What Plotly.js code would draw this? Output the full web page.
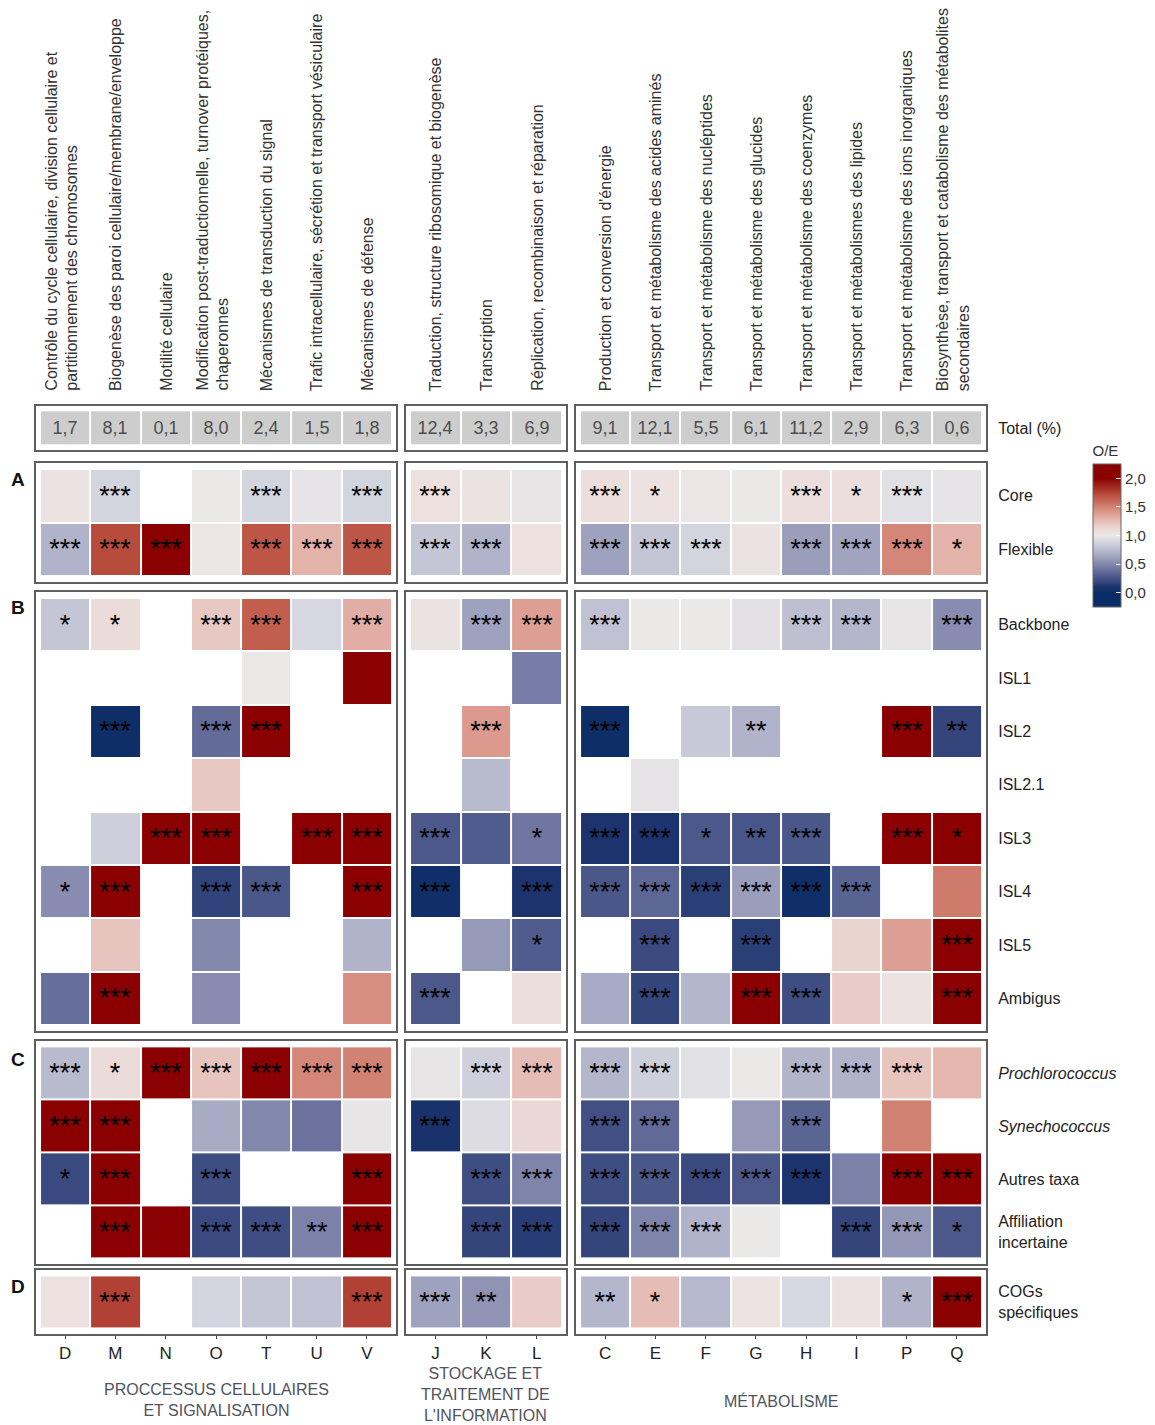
<!DOCTYPE html>
<html><head><meta charset="utf-8">
<script src="https://cdn.plot.ly/plotly-3.0.1.min.js"></script>
<style>html,body{margin:0;padding:0;background:#fff}</style>
</head><body><div id="chart" style="width:1155px;height:1425px"></div>
<script>
// ---------- DATA ----------
const colsProc = ['D','M','N','O','T','U','V'];
const colsInfo = ['J','K','L'];
const colsMeta = ['C','E','F','G','H','I','P','Q'];

const labelsProc = [
  'Contrôle du cycle cellulaire, division cellulaire et<br>partitionnement des chromosomes',
  'Biogenèse des paroi cellulaire/membrane/enveloppe',
  'Motilité cellulaire',
  'Modification post-traductionnelle, turnover protéiques,<br>chaperonnes',
  'Mécanismes de transduction du signal',
  'Trafic intracellulaire, sécrétion et transport vésiculaire',
  'Mécanismes de défense'
];
const labelsInfo = [
  'Traduction, structure ribosomique et biogenèse',
  'Transcription',
  'Réplication, recombinaison et réparation'
];
const labelsMeta = [
  "Production et conversion d'énergie",
  'Transport et métabolisme des acides aminés',
  'Transport et métabolisme des nucléptides',
  'Transport et métabolisme des glucides',
  'Transport et métabolisme des coenzymes',
  'Transport et métabolismes des lipides',
  'Transport et métabolisme des ions inorganiques',
  'Biosynthèse, transport et catabolisme des métabolites<br>secondaires'
];
const groupTitles = ['PROCCESSUS CELLULAIRES<br>ET SIGNALISATION', 'STOCKAGE ET<br>TRAITEMENT DE<br>L\'INFORMATION', 'MÉTABOLISME'];

const totalLabel = ['Total (%)'];
const totalPct = [1.7, 8.1, 0.1, 8.0, 2.4, 1.5, 1.8, 12.4, 3.3, 6.9, 9.1, 12.1, 5.5, 6.1, 11.2, 2.9, 6.3, 0.6];

const rowsA = ['Core', 'Flexible'];
const rowsB = ['Backbone', 'ISL1', 'ISL2', 'ISL2.1', 'ISL3', 'ISL4', 'ISL5', 'Ambigus'];
const rowsC = ['Prochlorococcus', 'Synechococcus', 'Autres taxa', 'Affiliation incertaine'];
const rowsD = ['COGs spécifiques'];
const rowTextC = ['<i>Prochlorococcus</i>', '<i>Synechococcus</i>', 'Autres taxa', 'Affiliation<br>incertaine'];
const rowTextD = ['COGs<br>spécifiques'];

// O/E values, columns D M N O T U V | J K L | C E F G H I P Q  (null = absent)
const oeCore     = [1.05, 0.88, null, 1.0, 0.88, 0.97, 0.88, 1.06, 1.04, 0.98, 1.08, 1.05, 1.02, 1.0, 1.08, 1.08, 0.95, 0.97];
const oeFlexible = [0.7, 1.72, 2.3, 1.02, 1.68, 1.3, 1.68, 0.8, 0.7, 1.06, 0.62, 0.8, 0.88, 1.04, 0.6, 0.63, 1.48, 1.3];
const oeBackbone = [0.8, 1.1, null, 1.2, 1.65, 0.9, 1.32, 1.04, 0.62, 1.38, 0.78, 1.0, 1.0, 0.96, 0.77, 0.72, 0.98, 0.52];
const oeISL1     = [null, null, null, null, 1.0, null, 2.3, null, null, 0.45, null, null, null, null, null, null, null, null];
const oeISL2     = [null, 0.02, null, 0.37, 2.3, null, null, null, 1.4, null, 0.02, null, 0.82, 0.7, null, null, 2.3, 0.18];
const oeISL21    = [null, null, null, 1.2, null, null, null, null, 0.74, null, null, 0.97, null, null, null, null, null, null];
const oeISL3     = [null, 0.85, 2.3, 2.3, null, 2.3, 2.3, 0.28, 0.3, 0.42, 0.1, 0.1, 0.28, 0.26, 0.27, null, 2.3, 2.3];
const oeISL4     = [0.52, 2.3, null, 0.17, 0.27, null, 2.3, 0.03, null, 0.1, 0.27, 0.35, 0.15, 0.6, 0.03, 0.33, null, 1.53];
const oeISL5     = [null, 1.22, null, 0.5, null, null, 0.7, null, 0.58, 0.3, null, 0.2, null, 0.15, null, 1.14, 1.38, 2.3];
const oeAmbigus  = [0.38, 2.3, null, 0.52, null, null, 1.45, 0.28, null, 1.08, 0.66, 0.18, 0.72, 2.3, 0.22, 1.18, 1.05, 2.3];
const oeProchl   = [0.74, 1.1, 2.3, 1.22, 2.3, 1.48, 1.5, 0.98, 0.86, 1.25, 0.72, 0.85, 0.95, 1.0, 0.71, 0.7, 1.22, 1.28];
const oeSynech   = [2.3, 2.3, null, 0.66, 0.5, 0.4, 0.98, 0.08, 0.93, 1.12, 0.23, 0.36, null, 0.58, 0.34, null, 1.5, null];
const oeAutres   = [0.2, 2.3, null, 0.22, null, null, 2.3, null, 0.22, 0.48, 0.22, 0.27, 0.2, 0.28, 0.1, 0.47, 2.3, 2.3];
const oeAffil    = [null, 2.3, 2.3, 0.2, 0.22, 0.47, 2.3, null, 0.18, 0.14, 0.18, 0.48, 0.7, 1.0, null, 0.18, 0.57, 0.28];
const oeCOGs     = [1.06, 1.76, null, 0.88, 0.8, 0.78, 1.76, 0.62, 0.55, 1.18, 0.72, 1.25, 0.73, 1.03, 0.9, 1.05, 0.7, 2.3];

// significance stars
const stCore     = ['', '***', '', '', '***', '', '***', '***', '', '', '***', '*', '', '', '***', '*', '***', ''];
const stFlexible = ['***', '***', '***', '', '***', '***', '***', '***', '***', '', '***', '***', '***', '', '***', '***', '***', '*'];
const stBackbone = ['*', '*', '', '***', '***', '', '***', '', '***', '***', '***', '', '', '', '***', '***', '', '***'];
const stISL1     = ['', '', '', '', '', '', '', '', '', '', '', '', '', '', '', '', '', ''];
const stISL2     = ['', '***', '', '***', '***', '', '', '', '***', '', '***', '', '', '**', '', '', '***', '**'];
const stISL21    = ['', '', '', '', '', '', '', '', '', '', '', '', '', '', '', '', '', ''];
const stISL3     = ['', '', '***', '***', '', '***', '***', '***', '', '*', '***', '***', '*', '**', '***', '', '***', '*'];
const stISL4     = ['*', '***', '', '***', '***', '', '***', '***', '', '***', '***', '***', '***', '***', '***', '***', '', ''];
const stISL5     = ['', '', '', '', '', '', '', '', '', '*', '', '***', '', '***', '', '', '', '***'];
const stAmbigus  = ['', '***', '', '', '', '', '', '***', '', '', '', '***', '', '***', '***', '', '', '***'];
const stProchl   = ['***', '*', '***', '***', '***', '***', '***', '', '***', '***', '***', '***', '', '', '***', '***', '***', ''];
const stSynech   = ['***', '***', '', '', '', '', '', '***', '', '', '***', '***', '', '', '***', '', '', ''];
const stAutres   = ['*', '***', '', '***', '', '', '***', '', '***', '***', '***', '***', '***', '***', '***', '', '***', '***'];
const stAffil    = ['', '***', '', '***', '***', '**', '***', '', '***', '***', '***', '***', '***', '', '', '***', '***', '*'];
const stCOGs     = ['', '***', '', '', '', '', '***', '***', '**', '', '**', '*', '', '', '', '', '*', '***'];

// ---------- STYLE / GEOMETRY ----------
const W = 1155, H = 1425;
const fx = p => p / W, fy = p => 1 - p / H;
const FONT = 'Liberation Sans, Arial, sans-serif';

const csStops = [
  [-0.25, '#0b2d66'], [0.0, '#0b2d66'], [0.1, '#1c336e'], [0.2, '#3a4a80'], [0.3, '#505c8d'],
  [0.4, '#6b729e'], [0.5, '#8388ad'], [0.6, '#9a9ebb'], [0.7, '#b0b3c9'], [0.8, '#c4c6d6'],
  [0.9, '#d6d7e0'], [1.0, '#ebe8e8'], [1.1, '#ecdcd9'], [1.2, '#e8c8c2'], [1.3, '#e3b2a9'],
  [1.4, '#dc9a8e'], [1.5, '#d28273'], [1.6, '#c76a59'], [1.7, '#ba5142'], [1.8, '#aa362a'],
  [1.9, '#9a1c15'], [2.0, '#8b0000'], [2.25, '#8b0000']
];
const ZMIN = -0.25, ZMAX = 2.25;
const colorscale = csStops.map(s => [(s[0] - ZMIN) / (ZMAX - ZMIN), s[1]]);

const groups = [
  {cols: colsProc, labels: labelsProc, xa: 'x', off: 0, dom: [35, 397], titleY: 1400},
  {cols: colsInfo, labels: labelsInfo, xa: 'x2', off: 7, dom: [405, 567], titleY: 1394},
  {cols: colsMeta, labels: labelsMeta, xa: 'x3', off: 10, dom: [575, 987], titleY: 1401}
];

const blocks = [
  {ya: 'y2', rows: rowsA, text: rowsA, oe: [oeCore, oeFlexible], st: [stCore, stFlexible], dom: [462, 583], pad: 0.63},
  {ya: 'y3', rows: rowsB, text: rowsB, oe: [oeBackbone, oeISL1, oeISL2, oeISL21, oeISL3, oeISL4, oeISL5, oeAmbigus],
   st: [stBackbone, stISL1, stISL2, stISL21, stISL3, stISL4, stISL5, stAmbigus], dom: [591, 1032], pad: 0.63},
  {ya: 'y4', rows: rowsC, text: rowTextC, oe: [oeProchl, oeSynech, oeAutres, oeAffil], st: [stProchl, stSynech, stAutres, stAffil], dom: [1040, 1265], pad: 0.62},
  {ya: 'y5', rows: rowsD, text: rowTextD, oe: [oeCOGs], st: [stCOGs], dom: [1269, 1335], pad: 0.62}
];

const traces = [];
const shapes = [];
const annotations = [];
const fmt = v => v.toFixed(1).replace('.', ',');

function frame(xa, ya) {
  shapes.push({type: 'rect', xref: xa + ' domain', yref: ya + ' domain', x0: 0, x1: 1, y0: 0, y1: 1,
    line: {color: '#5e5e5e', width: 2}, layer: 'above'});
}

groups.forEach(g => {
  const n = g.cols.length;
  const tot = totalPct.slice(g.off, g.off + n);
  traces.push({
    type: 'heatmap', x: g.cols, y: totalLabel, z: [tot], text: [tot.map(fmt)],
    texttemplate: '%{text}', textfont: {family: FONT, size: 18, color: '#4d4d4d'},
    colorscale: [[0, '#cdcdcd'], [1, '#cdcdcd']], showscale: false, xgap: 2, ygap: 2,
    xaxis: g.xa, yaxis: 'y', hoverinfo: 'skip'
  });
  frame(g.xa, 'y');
  blocks.forEach(b => {
    traces.push({
      type: 'heatmap', x: g.cols, y: b.rows,
      z: b.oe.map(r => r.slice(g.off, g.off + n)),
      text: b.st.map(r => r.slice(g.off, g.off + n)),
      texttemplate: '%{text}', textfont: {family: FONT, size: 27, color: '#000'},
      coloraxis: 'coloraxis', xgap: 2, ygap: 2,
      xaxis: g.xa, yaxis: b.ya, hoverinfo: 'skip'
    });
    frame(g.xa, b.ya);
  });
  g.labels.forEach((lab, i) => {
    annotations.push({xref: g.xa, yref: 'paper', x: i, y: fy(393), text: lab, textangle: -90,
      xanchor: 'center', yanchor: 'bottom', align: 'left', showarrow: false,
      xshift: lab.indexOf('<br>') >= 0 ? -4 : 0,
      font: {family: FONT, size: 16, color: '#333'}});
  });
});

const layout = {
  width: W, height: H, margin: {l: 0, r: 0, t: 0, b: 0},
  paper_bgcolor: '#fff', plot_bgcolor: 'rgba(0,0,0,0)',
  font: {family: FONT, color: '#222'}, separators: ', ', showlegend: false,
  coloraxis: {
    cmin: ZMIN, cmax: ZMAX, colorscale: colorscale,
    colorbar: {
      title: {text: 'O/E', side: 'top', font: {family: FONT, size: 15, color: '#333'}},
      x: fx(1093), xanchor: 'left', y: fy(607), yanchor: 'bottom',
      len: 165, lenmode: 'pixels', thickness: 28, thicknessmode: 'pixels',
      outlinewidth: 1, outlinecolor: '#666', xpad: 0, ypad: 0,
      tickmode: 'linear', tick0: 0, dtick: 0.5, tickformat: '.1f',
      ticks: 'inside', ticklen: 5, tickcolor: '#fff',
      tickfont: {family: FONT, size: 15, color: '#333'}
    }
  },
  shapes: shapes,
  annotations: annotations
};

groups.forEach((g, k) => {
  const key = k === 0 ? 'xaxis' : 'xaxis' + (k + 1);
  layout[key] = {
    domain: [fx(g.dom[0]), fx(g.dom[1])], anchor: 'y5', type: 'category',
    categoryorder: 'array', categoryarray: g.cols, range: [-0.6, g.cols.length - 0.4],
    showgrid: false, zeroline: false, showline: false, fixedrange: true,
    ticks: 'outside', ticklen: 3, tickcolor: '#444', tickwidth: 1,
    tickfont: {family: FONT, size: 17, color: '#222'}
  };
});

layout.yaxis = {
  domain: [fy(451), fy(405)], anchor: 'x3', side: 'right', type: 'category',
  categoryorder: 'array', categoryarray: totalLabel, range: [0.65, -0.65],
  showgrid: false, zeroline: false, fixedrange: true,
  ticks: 'outside', ticklen: 7, tickcolor: 'rgba(0,0,0,0)',
  tickfont: {family: FONT, size: 16, color: '#222'}
};
blocks.forEach(b => {
  const key = 'yaxis' + b.ya.slice(1);
  layout[key] = {
    domain: [fy(b.dom[1]), fy(b.dom[0])], anchor: 'x3', side: 'right', type: 'category',
    categoryorder: 'array', categoryarray: b.rows,
    range: [b.rows.length - 1 + b.pad, -b.pad],
    tickmode: 'array', tickvals: b.rows, ticktext: b.text,
    showgrid: false, zeroline: false, fixedrange: true,
    ticks: 'outside', ticklen: 7, tickcolor: 'rgba(0,0,0,0)',
    tickfont: {family: FONT, size: 16, color: '#222'}
  };
});

// panel letters
[['A', 480], ['B', 607], ['C', 1059], ['D', 1286]].forEach(p => {
  annotations.push({xref: 'paper', yref: 'paper', x: fx(18), y: fy(p[1]), text: '<b>' + p[0] + '</b>',
    showarrow: false, xanchor: 'center', yanchor: 'middle', font: {family: FONT, size: 19, color: '#111'}});
});
// group titles
groups.forEach((g, k) => {
  annotations.push({xref: 'paper', yref: 'paper', x: fx((g.dom[0] + g.dom[1]) / 2), y: fy(g.titleY),
    text: groupTitles[k], showarrow: false, xanchor: 'center', yanchor: 'middle', align: 'center',
    font: {family: FONT, size: 16, color: '#505260'}});
});

Plotly.newPlot('chart', traces, layout, {staticPlot: true, displayModeBar: false});
</script>
</body></html>
